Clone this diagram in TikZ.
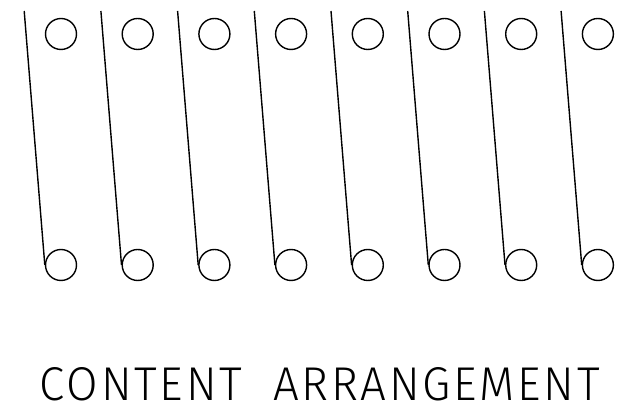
\documentclass[tikz,border=0pt]{standalone}
\usepackage{fontspec}
\newfontfamily\captionfont{Fira Sans}[UprightFont={* Light},LetterSpace=6]
\usetikzlibrary{positioning}
\tikzset{
    ring/.style={draw, circle, line width=1.4pt, minimum size=31pt, inner sep=0pt},
    rod/.style={line width=1.4pt}
}
\begin{document}
\begin{tikzpicture}[x=1pt, y=1pt]
    \useasboundingbox (0, 0) rectangle (630, 414);
    % hangers
    \foreach \i in {0,...,7} {
        \pgfmathsetmacro{\cx}{61 + 76.7*\i}
        \node[ring] (top\i) at (\cx, 380) {};
        \node[ring] (bot\i) at (\cx, 149) {};
        \coordinate (hook\i) at (\cx - 36.8, 403);
        \draw[rod] (hook\i) -- (bot\i.west);
    }
    % caption
    \node[inner sep=0pt] (caption) at (320, 29.5)
        {\resizebox{560pt}{33pt}{\captionfont\fontsize{48}{48}\selectfont CONTENT\ \ ARRANGEMENT}};
\end{tikzpicture}
\end{document}
